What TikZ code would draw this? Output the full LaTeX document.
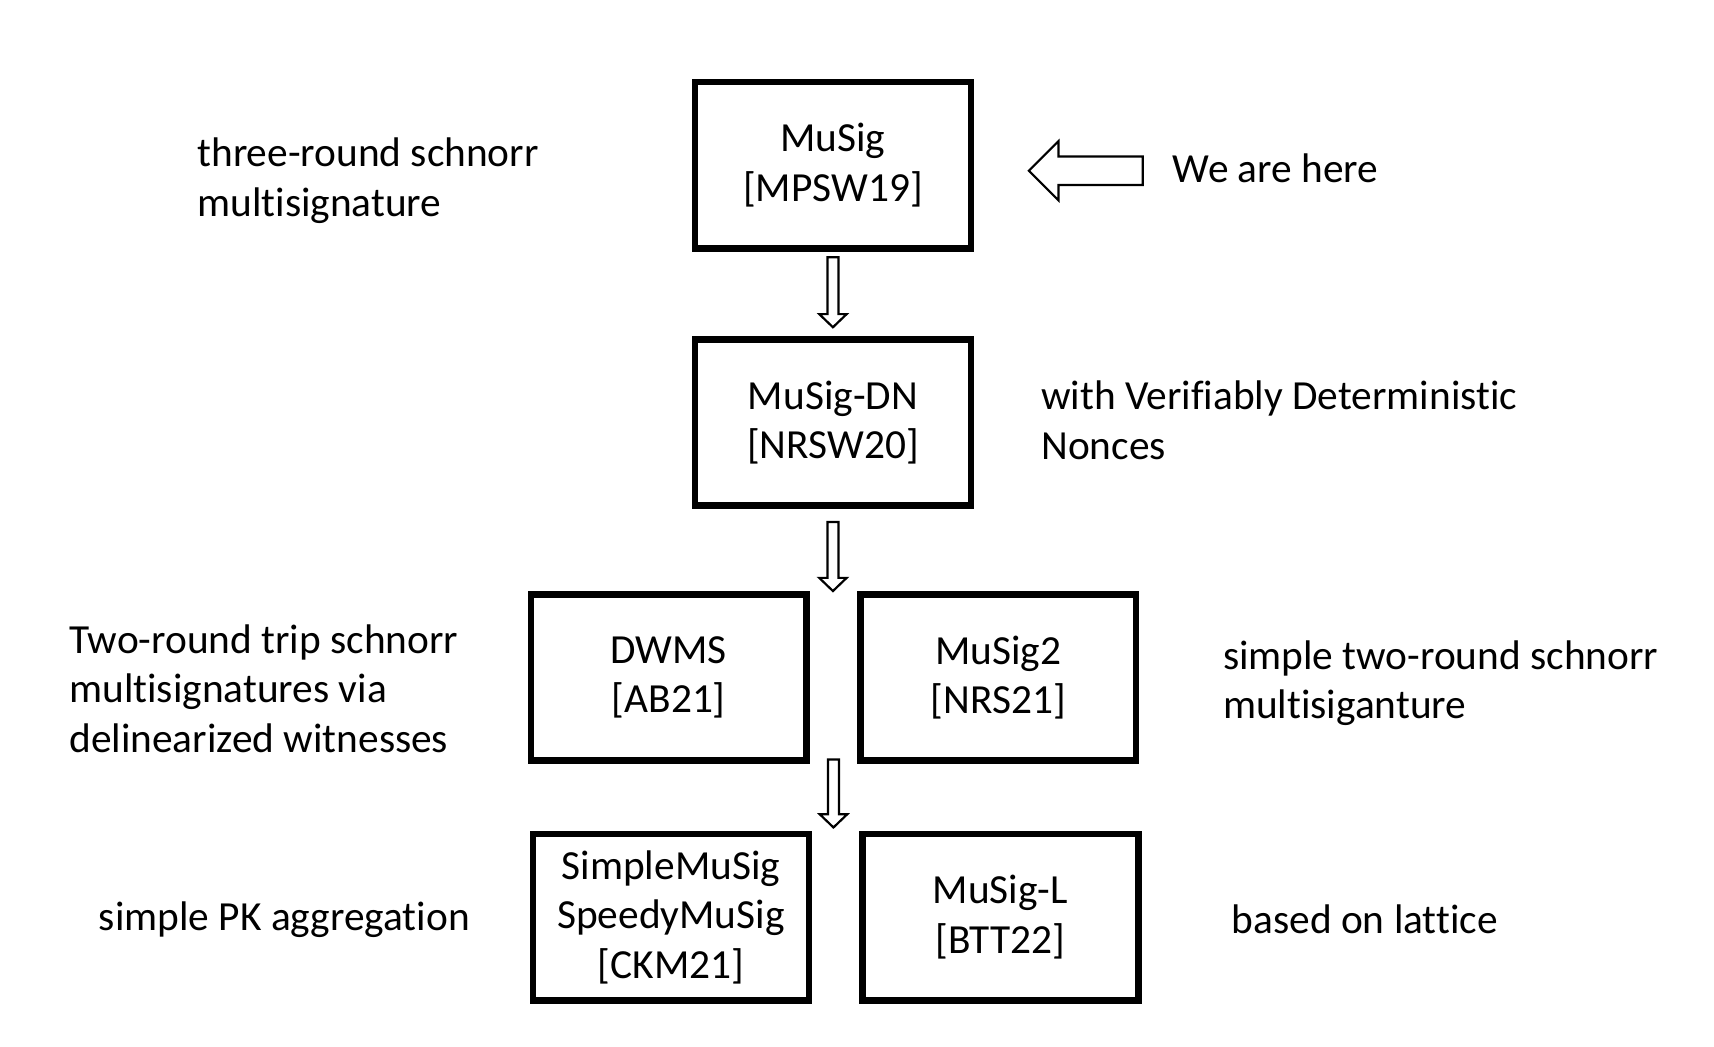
\documentclass[tikz,border=0pt]{standalone}
\usepackage{fontspec}
\setmainfont{Carlito}[Ligatures={NoCommon,NoRequired,NoContextual}]
\usetikzlibrary{calc}

\tikzset{
  paper/.style={draw, line width=3pt, minimum width=126pt, minimum height=76pt,
    align=center, inner sep=0pt},
  note/.style={anchor=west, align=left, inner sep=0pt},
  blockarrow/.style={draw, line width=1pt, fill=white, line join=miter},
}

% hollow block arrow pointing down, from #1 to #2
\newcommand{\blockdown}[2]{%
  \draw[blockarrow] let \p1=#1, \p2=#2 in
    (\x1-2.5pt,\y1) -- (\x1+2.5pt,\y1) -- (\x1+2.5pt,\y2+6pt)
    -- (\x1+6.25pt,\y2+6pt) -- (\x1,\y2) -- (\x1-6.25pt,\y2+6pt)
    -- (\x1-2.5pt,\y2+6pt) -- cycle;}

\begin{document}
\begin{tikzpicture}[x=0.5pt, y=-0.5pt, font=\fontsize{18.9}{22.6}\selectfont]
    \useasboundingbox (0,0) rectangle (1566,956);

    % Kaestchen
    \node[paper] (musig)   at (761,151) {MuSig\\{[MPSW19]}};
    \node[paper] (musigdn) at (761,386) {MuSig-DN\\{[NRSW20]}};
    \node[paper] (dwms)    at (611,619) {DWMS\\{[AB21]}};
    \node[paper] (musig2)  at (912,619) {MuSig2\\{[NRS21]}};
    \node[paper] (ckm)     at (613,838) {SimpleMuSig\\SpeedyMuSig\\{[CKM21]}};
    \node[paper] (musigl)  at (914,838) {MuSig-L\\{[BTT22]}};

    % Beschreibungen
    \node[note] (threeround) at (180,165) {three-round schnorr\\multisignature};
    \node[note] (here)       at (1071,154) {We are here};
    \node[note] (nonces)     at (951,384) {with Verifiably Deterministic\\Nonces};
    \node[note] (tworound)   at (63,629) {Two-round trip schnorr\\multisignatures via\\delinearized witnesses};
    \node[note] (simple)     at (1117,624) {simple two-round schnorr\\multisiganture};
    \node[note] (pkagg)      at (90,840) {simple PK aggregation};
    \node[note] (lattice)    at (1125,840) {based on lattice};

    % Pfeile
    \blockdown{($(musig.south)+(0,5)$)}{($(musigdn.north)+(0,-8)$)}
    \blockdown{($(musigdn.south)+(0,12)$)}{($(dwms.north east)!0.5!(musig2.north west)$)}
    \blockdown{($(dwms.south east)!0.5!(musig2.south west)+(0,-4)$)}{($(ckm.north)+(0,-3)$)}

    % Pfeil nach links
    \draw[blockarrow] (940,156) -- (967,129) -- (967,143) -- (1044,143)
        -- (1044,169) -- (967,169) -- (967,183) -- cycle;
\end{tikzpicture}
\end{document}
